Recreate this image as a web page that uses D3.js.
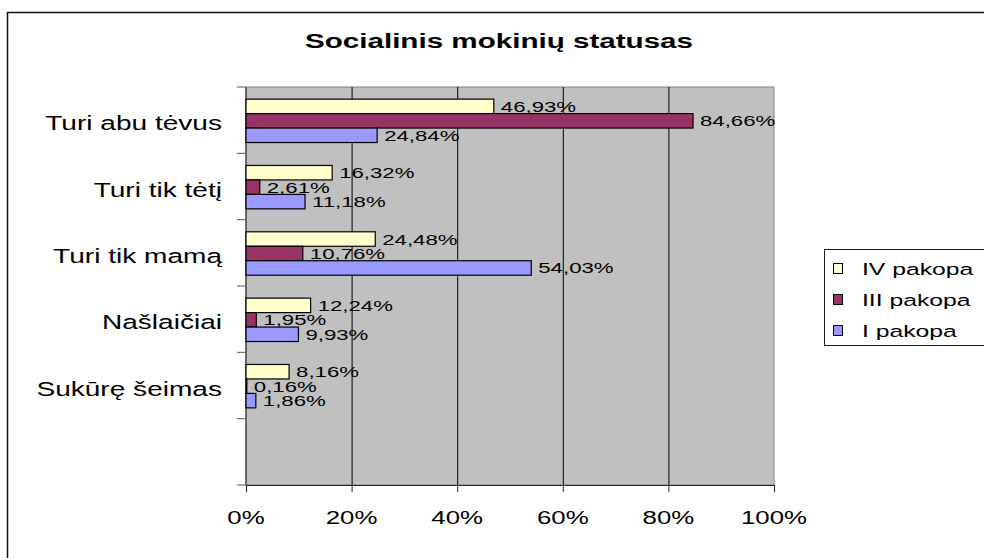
<!DOCTYPE html>
<html>
<head>
<meta charset="utf-8">
<script src="https://cdn.jsdelivr.net/npm/d3@7"></script>
<style>
  body { margin: 0; background: #fff; }
  text { font-family: "Liberation Sans", Arial, sans-serif; fill: #000; }
</style>
</head>
<body>
<svg id="svg" width="984" height="558"></svg>
<script>
// data
var categories = ["Turi abu tėvus", "Turi tik tėtį", "Turi tik mamą", "Našlaičiai", "Sukūrę šeimas", ""];
var seriesNames = ["IV pakopa", "III pakopa", "I pakopa"];
var pakopaIV = [46.93, 16.32, 24.48, 12.24, 8.16];
var pakopaIII = [84.66, 2.61, 10.76, 1.95, 0.16];
var pakopaI = [24.84, 11.18, 54.03, 9.93, 1.86];
var xTicks = [0, 20, 40, 60, 80, 100];
var seriesColors = ["#FFFFCC", "#993366", "#9999FF"];

var allSeries = [pakopaIV, pakopaIII, pakopaI];

var svg = d3.select("#svg");
var plot = {left: 246, right: 774, top: 87, bottom: 485};

// the picture is stretched sideways, so text is too
function stretched(sel, sx) {
  sel.attr("transform", function(d, i) {
    var x = +this.getAttribute("data-x"), y = +this.getAttribute("data-y");
    return "translate(" + x + "," + y + ") scale(" + sx + ",1)";
  });
}

svg.append("rect").attr("width", 984).attr("height", 558).attr("fill", "#fff");
svg.append("rect")
  .attr("x", 7.5).attr("y", 12.5).attr("width", 1100).attr("height", 700)
  .attr("fill", "none").attr("stroke", "#111").attr("stroke-width", 1.5);

// title
svg.append("text")
  .attr("data-x", 499).attr("data-y", 48)
  .attr("text-anchor", "middle")
  .style("font-size", "20px").style("font-weight", "bold")
  .text("Socialinis mokinių statusas")
  .call(stretched, 1.48);

var x = d3.scaleLinear().domain([0, 100]).range([plot.left, plot.right]);
var y = d3.scaleBand().domain(categories).range([plot.top, plot.bottom]).padding(0);
var ySub = d3.scaleBand().domain(d3.range(3))
  .range([y.bandwidth() * 0.183, y.bandwidth() * 0.837]).padding(0);

// plot area
svg.append("rect")
  .attr("x", plot.left).attr("y", plot.top)
  .attr("width", plot.right - plot.left).attr("height", plot.bottom - plot.top)
  .attr("fill", "#C0C0C0").attr("stroke", "#808080").attr("stroke-width", 1);

svg.append("g").selectAll("line")
  .data(xTicks.slice(1, -1))
  .enter().append("line")
  .attr("x1", function(d) { return x(d) + 0.5; })
  .attr("x2", function(d) { return x(d) + 0.5; })
  .attr("y1", plot.top).attr("y2", plot.bottom)
  .attr("stroke", "#000").attr("stroke-width", 1);

// x axis
var xAxis = svg.append("g")
  .attr("transform", "translate(0," + plot.bottom + ")")
  .call(d3.axisBottom(x).tickValues(xTicks).tickSize(7).tickFormat(""));
xAxis.select(".domain").attr("stroke", "#222");
xAxis.selectAll(".tick line").attr("stroke", "#222");

svg.append("g").selectAll("text")
  .data(xTicks)
  .enter().append("text")
  .attr("data-x", function(d) { return x(d); }).attr("data-y", 524)
  .attr("text-anchor", "middle")
  .style("font-size", "19px")
  .text(function(d) { return d + "%"; })
  .call(stretched, 1.36);

// category axis: ticks sit between the bands
var yTicks = categories.map(function(c) { return y(c); }).concat([plot.bottom]);
svg.append("line")
  .attr("x1", plot.left).attr("x2", plot.left)
  .attr("y1", plot.top).attr("y2", plot.bottom)
  .attr("stroke", "#222");
svg.append("g").selectAll("line")
  .data(yTicks)
  .enter().append("line")
  .attr("x1", plot.left - 9).attr("x2", plot.left)
  .attr("y1", function(d) { return d; }).attr("y2", function(d) { return d; })
  .attr("stroke", "#555");

svg.append("g").selectAll("text")
  .data(categories)
  .enter().append("text")
  .attr("data-x", 222)
  .attr("data-y", function(d) { return y(d) + y.bandwidth() / 2 + 10; })
  .attr("text-anchor", "end")
  .style("font-size", "19.5px")
  .text(function(d) { return d; })
  .call(stretched, 1.44);

// bars
var fmt = function(v) { return v.toFixed(2).replace(".", ",") + "%"; };
allSeries.forEach(function(vals, s) {
  var g = svg.append("g");
  g.selectAll("rect")
    .data(vals)
    .enter().append("rect")
    .attr("x", x(0))
    .attr("y", function(d, i) { return y(categories[i]) + ySub(s); })
    .attr("width", function(d) { return x(d) - x(0); })
    .attr("height", ySub.bandwidth())
    .attr("fill", seriesColors[s]).attr("stroke", "#000").attr("stroke-width", 1.2);
  g.selectAll("text")
    .data(vals)
    .enter().append("text")
    .attr("data-x", function(d) { return x(d) + 7; })
    .attr("data-y", function(d, i) { return y(categories[i]) + ySub(s) + ySub.bandwidth() / 2 + 5.5; })
    .style("font-size", "15px")
    .text(fmt)
    .call(stretched, 1.48);
});

// legend
var legend = svg.append("g");
legend.append("rect")
  .attr("x", 824.5).attr("y", 249.5).attr("width", 200).attr("height", 96)
  .attr("fill", "#fff").attr("stroke", "#222");
seriesNames.forEach(function(name, i) {
  legend.append("rect")
    .attr("x", 833.5).attr("y", 263.5 + i * 31).attr("width", 9).attr("height", 10)
    .attr("fill", seriesColors[i]).attr("stroke", "#000");
  legend.append("text")
    .attr("data-x", 862).attr("data-y", 274.5 + i * 31)
    .style("font-size", "16.5px")
    .text(name)
    .call(stretched, 1.5);
});
</script>
</body>
</html>
